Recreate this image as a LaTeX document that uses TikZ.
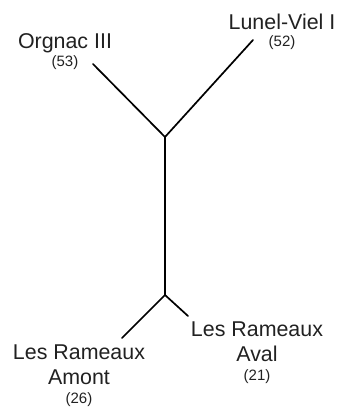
\documentclass[tikz,border=0pt]{standalone}
\usepackage{fontspec}
\setmainfont{Liberation Sans}
\begin{document}
\begin{tikzpicture}[x=1pt,y=-1pt,
  big/.style={font=\fontsize{21.4}{25}\selectfont, inner sep=0pt, align=center, text=black!87},
  small/.style={font=\fontsize{15}{18}\selectfont, inner sep=0pt, text=black!87},
  branch/.style={line width=1.7pt, line cap=round, black}]
\useasboundingbox (0,0) rectangle (337,409);
% junctions and tips
\coordinate (jt) at (165,137);
\coordinate (jb) at (165,295);
\coordinate (tOrg) at (93,64);
\coordinate (tLun) at (253,40);
\coordinate (tAm) at (122,338);
\coordinate (tAv) at (188,316);
\draw[branch] (tOrg) -- (jt) -- (tLun);
\draw[branch] (jt) -- (jb);
\draw[branch] (tAm) -- (jb) -- (tAv);
% labels
\node[big] (org) at (65,43) {Orgnac III};
\node[small] (org n) at (65,63) {(53)};
\node[big] (lun) at (282,22) {Lunel-Viel I};
\node[small] (lun n) at (282,43) {(52)};
\node[big] (aval) at (257,342) {Les Rameaux\\Aval};
\node[small] (aval n) at (257,377) {(21)};
\node[big] (amont) at (79,365) {Les Rameaux\\Amont};
\node[small] (amont n) at (79,400) {(26)};
\end{tikzpicture}
\end{document}
